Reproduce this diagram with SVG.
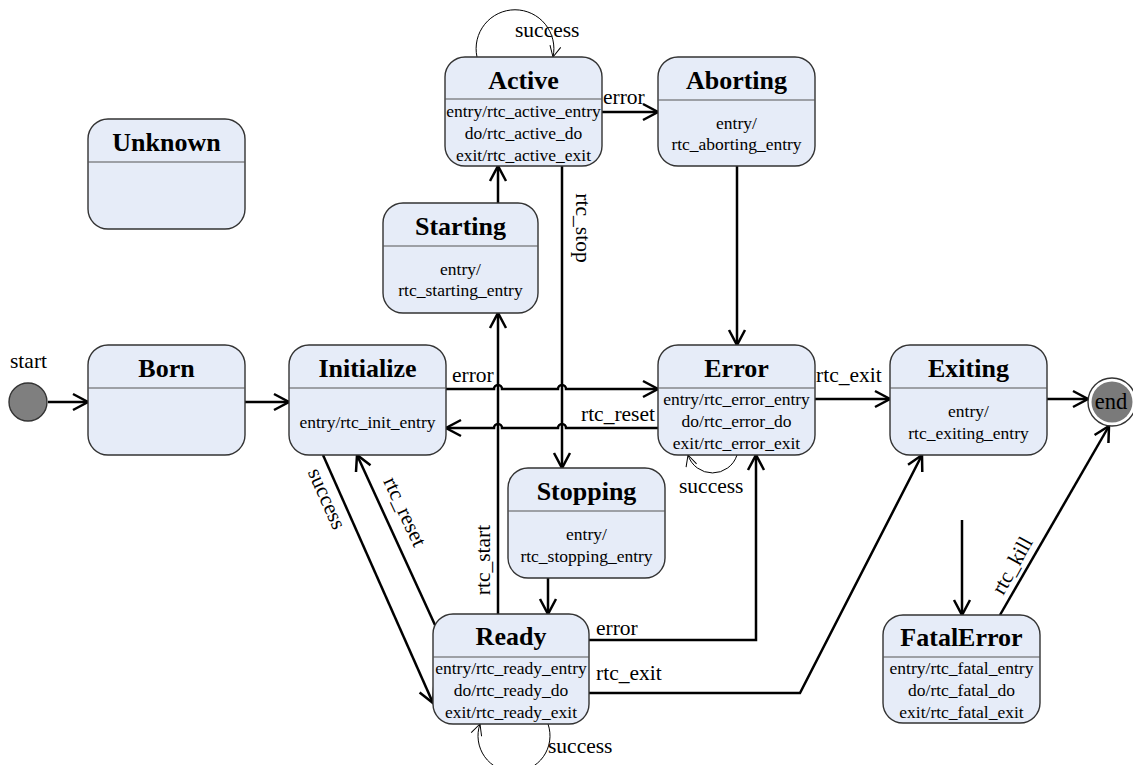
<svg xmlns="http://www.w3.org/2000/svg" width="1133" height="765" viewBox="0 0 1133 765">
<defs>
<style>
.box{fill:#e6ecf8;stroke:#333;stroke-width:1.4}
.dv{stroke:#555;stroke-width:1.2}
.t{font-family:"Liberation Serif","Times New Roman",serif;font-weight:bold;font-size:26px;text-anchor:middle;fill:#000}
.b{font-family:"Liberation Serif","Times New Roman",serif;font-size:17.5px;text-anchor:middle;fill:#000}
.l{font-family:"Liberation Serif","Times New Roman",serif;font-size:21.5px;fill:#000}
.lm{font-family:"Liberation Serif","Times New Roman",serif;font-size:21.5px;fill:#000;text-anchor:middle}
.c{fill:none;stroke:#000;stroke-width:2.5}
.s{fill:none;stroke:#000;stroke-width:1}
</style>
<marker id="ah" viewBox="0 0 22 22" refX="19" refY="11" markerWidth="22" markerHeight="22" markerUnits="userSpaceOnUse" orient="auto">
<path d="M4,3 L19,11 L4,19" fill="none" stroke="#000" stroke-width="2.5"/>
</marker>
<marker id="ahs" viewBox="0 0 20 20" refX="16" refY="10" markerWidth="20" markerHeight="20" markerUnits="userSpaceOnUse" orient="auto">
<path d="M5,4.5 L16,10 L5,15.5" fill="none" stroke="#000" stroke-width="1"/>
</marker>
</defs>
<rect width="1133" height="765" fill="#fff"/>

<g id="connectors">
<path class="c" d="M48 402 L88 402" marker-end="url(#ah)"/>
<path class="c" d="M245 402 L289 402" marker-end="url(#ah)"/>
<path class="c" d="M446 389 L494 389 A4 4 0 0 1 502 389 L558 389 A4 4 0 0 1 566 389 L658 389" marker-end="url(#ah)"/>
<path class="c" d="M658 428 L566 428 A4 4 0 0 0 558 428 L502 428 A4 4 0 0 0 494 428 L446 428" marker-end="url(#ah)"/>
<path class="c" d="M602 112 L658 112" marker-end="url(#ah)"/>
<path class="c" d="M498 203 L498 166" marker-end="url(#ah)"/>
<path class="c" d="M562 166 L562 468" marker-end="url(#ah)"/>
<path class="c" d="M737 166 L737 345" marker-end="url(#ah)"/>
<path class="c" d="M815 399 L890 399" marker-end="url(#ah)"/>
<path class="c" d="M1047 399 L1088 399" marker-end="url(#ah)"/>
<path class="c" d="M548 578 L548 614" marker-end="url(#ah)"/>
<path class="c" d="M498 614 L498 313" marker-end="url(#ah)"/>
<path class="c" d="M589 640 L756 640 L756 455" marker-end="url(#ah)"/>
<path class="c" d="M589 693 L800 693 L922 455" marker-end="url(#ah)"/>
<path class="c" d="M323 455 L433 703" marker-end="url(#ah)"/>
<path class="c" d="M435 625 L357 455" marker-end="url(#ah)"/>
<path class="c" d="M962 520 L962 615" marker-end="url(#ah)"/>
<path class="c" d="M1000 615 L1109 426" marker-end="url(#ah)"/>
<path class="s" d="M477 57 A38.9 38.9 0 1 1 553 57" marker-end="url(#ahs)"/>
<path class="s" d="M737 455 A25.7 25.7 0 0 1 688 455" marker-end="url(#ahs)"/>
<path class="s" d="M548 724 A36 36 0 1 1 480 724" marker-end="url(#ahs)"/>

<text class="l" x="10" y="368">start</text>
<text class="l" x="515" y="37">success</text>
<text class="l" x="603" y="104">error</text>
<text class="l" x="452" y="382">error</text>
<text class="l" x="655" y="421" text-anchor="end">rtc_reset</text>
<text class="l" x="816" y="382">rtc_exit</text>
<text class="l" x="596" y="635">error</text>
<text class="l" x="596" y="680">rtc_exit</text>
<text class="l" x="548" y="753">success</text>
<text class="l" x="679" y="493">success</text>
<text class="lm" transform="translate(581 228) rotate(90)" x="0" y="5">rtc_stop</text>
<text class="lm" transform="translate(485 560) rotate(-90)" x="0" y="5">rtc_start</text>
<text class="lm" transform="translate(326 499) rotate(66)" x="0" y="6">success</text>
<text class="lm" transform="translate(404 512) rotate(65)" x="0" y="6">rtc_reset</text>
<text class="lm" transform="translate(1013 566) rotate(-61)" x="0" y="6">rtc_kill</text>
</g>

<g id="start">
<circle cx="28" cy="402" r="19" fill="#7f7f7f" stroke="#333" stroke-width="1.4"/>
</g>

<g id="end">
<circle cx="1112" cy="402" r="24" fill="#fff" stroke="#333" stroke-width="1.4"/>
<circle cx="1112" cy="402" r="20.5" fill="#7a7a7a"/>
<text class="lm" x="1111" y="409" style="font-size:22.5px">end</text>
</g>

<g id="Unknown">
<rect class="box" x="88" y="119" width="157" height="110" rx="20"/>
<line class="dv" x1="88" y1="162" x2="245" y2="162"/>
<text class="t" x="166.5" y="151">Unknown</text>
</g>

<g id="Born">
<rect class="box" x="88" y="345" width="157" height="110" rx="20"/>
<line class="dv" x1="88" y1="388" x2="245" y2="388"/>
<text class="t" x="166.5" y="377">Born</text>
</g>

<g id="Initialize">
<rect class="box" x="289" y="345" width="157" height="110" rx="20"/>
<line class="dv" x1="289" y1="388" x2="446" y2="388"/>
<text class="t" x="367.5" y="377">Initialize</text>
<text class="b" x="367.5" y="428">entry/rtc_init_entry</text>
</g>

<g id="Starting">
<rect class="box" x="383" y="203" width="155" height="110" rx="20"/>
<line class="dv" x1="383" y1="246" x2="538" y2="246"/>
<text class="t" x="460.5" y="235">Starting</text>
<text class="b" x="460.5" y="274.5">entry/</text>
<text class="b" x="460.5" y="296">rtc_starting_entry</text>
</g>

<g id="Active">
<rect class="box" x="445" y="57" width="157" height="109" rx="20"/>
<line class="dv" x1="445" y1="99" x2="602" y2="99"/>
<text class="t" x="523.5" y="89">Active</text>
<text class="b" x="523.5" y="117">entry/rtc_active_entry</text>
<text class="b" x="523.5" y="139">do/rtc_active_do</text>
<text class="b" x="523.5" y="161">exit/rtc_active_exit</text>
</g>

<g id="Aborting">
<rect class="box" x="658" y="57" width="157" height="109" rx="20"/>
<line class="dv" x1="658" y1="100" x2="815" y2="100"/>
<text class="t" x="736.5" y="89">Aborting</text>
<text class="b" x="736.5" y="128.5">entry/</text>
<text class="b" x="736.5" y="150">rtc_aborting_entry</text>
</g>

<g id="Error">
<rect class="box" x="658" y="345" width="157" height="110" rx="20"/>
<line class="dv" x1="658" y1="388" x2="815" y2="388"/>
<text class="t" x="736.5" y="377">Error</text>
<text class="b" x="736.5" y="405">entry/rtc_error_entry</text>
<text class="b" x="736.5" y="427">do/rtc_error_do</text>
<text class="b" x="736.5" y="449">exit/rtc_error_exit</text>
</g>

<g id="Exiting">
<rect class="box" x="890" y="345" width="157" height="110" rx="20"/>
<line class="dv" x1="890" y1="388" x2="1047" y2="388"/>
<text class="t" x="968.5" y="377">Exiting</text>
<text class="b" x="968.5" y="417">entry/</text>
<text class="b" x="968.5" y="439">rtc_exiting_entry</text>
</g>

<g id="Stopping">
<rect class="box" x="508" y="468" width="157" height="110" rx="20"/>
<line class="dv" x1="508" y1="511" x2="665" y2="511"/>
<text class="t" x="586.5" y="500">Stopping</text>
<text class="b" x="586.5" y="539.5">entry/</text>
<text class="b" x="586.5" y="561.5">rtc_stopping_entry</text>
</g>

<g id="Ready">
<rect class="box" x="433" y="614" width="156" height="110" rx="20"/>
<line class="dv" x1="433" y1="657" x2="589" y2="657"/>
<text class="t" x="511" y="645">Ready</text>
<text class="b" x="511" y="674">entry/rtc_ready_entry</text>
<text class="b" x="511" y="696">do/rtc_ready_do</text>
<text class="b" x="511" y="718">exit/rtc_ready_exit</text>
</g>

<g id="FatalError">
<rect class="box" x="883" y="615" width="157" height="108" rx="20"/>
<line class="dv" x1="883" y1="657" x2="1040" y2="657"/>
<text class="t" x="961.5" y="646">FatalError</text>
<text class="b" x="961.5" y="674">entry/rtc_fatal_entry</text>
<text class="b" x="961.5" y="696">do/rtc_fatal_do</text>
<text class="b" x="961.5" y="718">exit/rtc_fatal_exit</text>
</g>
</svg>
